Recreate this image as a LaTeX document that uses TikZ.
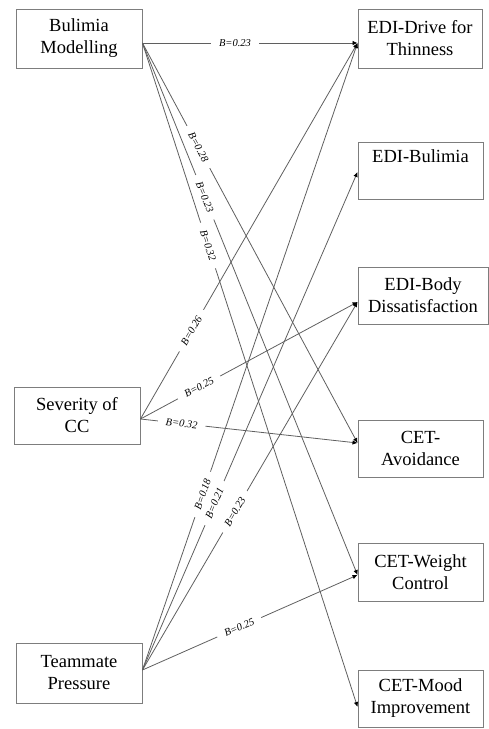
\documentclass[tikz,border=0pt]{standalone}
\usepackage{fontspec}
\setmainfont{Liberation Serif}
\usetikzlibrary{arrows.meta}
\definecolor{edgegray}{RGB}{95,95,95}
\definecolor{boxgray}{RGB}{125,125,125}
\tikzset{
  x=1pt, y=-1pt,
  varbox/.style={draw=boxgray, line width=0.9pt, align=center, font=\fontsize{18.5}{22}\selectfont, inner sep=0pt, minimum height=58pt},
  path/.style={draw=edgegray, line width=0.8pt, -{Latex[length=5pt,width=4.5pt,black]}},
  coef/.style={sloped, fill=white, inner xsep=8pt, inner ysep=0.5pt, font=\fontsize{10.5}{12}\selectfont\itshape}
}
\begin{document}
\begin{tikzpicture}
\useasboundingbox (0,0) rectangle (489,729);
% left boxes
\node[varbox, minimum width=126pt, minimum height=59pt] (bm) at (79,38.5) {Bulimia\\Modelling};
\node[varbox, minimum width=126pt, minimum height=57pt] (sev) at (77,415.5) {Severity of\\CC};
\node[varbox, minimum width=126pt, minimum height=60pt] (tp) at (79,673) {Teammate\\Pressure};
% right boxes
\node[varbox, minimum width=124pt, minimum height=59pt] (edd) at (420,38.5) {EDI-Drive for\\Thinness};
\node[varbox, minimum width=125pt, minimum height=57pt] (edb) at (420.5,170.5) {EDI-Bulimia\\\strut};
\node[varbox, minimum width=130pt, minimum height=57pt] (edbd) at (423,295.5) {EDI-Body\\Dissatisfaction};
\node[varbox, minimum width=125pt, minimum height=57pt] (cav) at (420.5,448.5) {CET-\\Avoidance};
\node[varbox, minimum width=125pt, minimum height=58pt] (cwc) at (420.5,572) {CET-Weight\\Control};
\node[varbox, minimum width=125pt, minimum height=57pt] (cmi) at (420.5,698.5) {CET-Mood\\Improvement};
% attachment points
\coordinate (bmo) at ([yshift=-4.5pt]bm.east);
\coordinate (sevo) at ([yshift=-3.5pt]sev.east);
\coordinate (tpo) at ([yshift=3pt]tp.east);
\coordinate (eddi) at ([yshift=-4.5pt]edd.west);
\coordinate (edbi) at ([yshift=-1.5pt]edb.west);
\coordinate (edbdi) at ([yshift=-6.5pt]edbd.west);
\coordinate (cavi) at ([yshift=5.5pt]cav.west);
\coordinate (cwci) at ([yshift=-3pt]cwc.west);
\coordinate (cmii) at ([yshift=-8.5pt]cmi.west);
% paths
\draw[path] (bmo) -- node[coef, pos=0.43] {B=0.23} (eddi);
\draw[path] (bmo) -- node[coef, pos=0.26] {B=0.28} (cavi);
\draw[path] (bmo) -- node[coef, pos=0.29] {B=0.23} (cwci);
\draw[path] (bmo) -- node[coef, pos=0.305] {B=0.32} (cmii);
\draw[path] (sevo) -- node[coef, pos=0.235] {B=0.26} (eddi);
\draw[path] (sevo) -- node[coef, pos=0.27] {B=0.25} (edbdi);
\draw[path] (sevo) -- node[coef, pos=0.19] {B=0.32} (cavi);
\draw[path] (tpo) -- node[coef, pos=0.28] {B=0.18} (eddi);
\draw[path] (tpo) -- node[coef, pos=0.335] {B=0.21} (edbi);
\draw[path] (tpo) -- node[coef, pos=0.43] {B=0.23} (edbdi);
\draw[path] (tpo) -- node[coef, pos=0.45] {B=0.25} (cwci);
\end{tikzpicture}
\end{document}
